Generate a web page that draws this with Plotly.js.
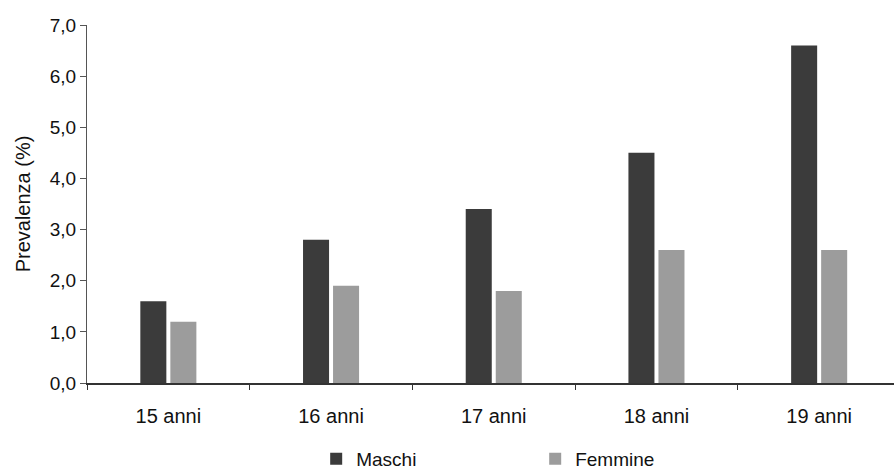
<!DOCTYPE html>
<html><head><meta charset="utf-8">
<script src="https://cdn.plot.ly/plotly-3.0.1.min.js"></script>
<style>body{margin:0;background:#fff}</style>
</head><body>
<div id="chart" style="width:894px;height:474px"></div>
<script>
const categories = ["15 anni","16 anni","17 anni","18 anni","19 anni"];
const maschi = [1.6, 2.8, 3.4, 4.5, 6.6];
const femmine = [1.2, 1.9, 1.8, 2.6, 2.6];
const yTicks = [0,1,2,3,4,5,6,7];
const yTickText = ["0,0","1,0","2,0","3,0","4,0","5,0","6,0","7,0"];

const font = {family: "Liberation Sans, Arial, sans-serif", size: 19, color: "#111"};
const data = [
  {type: "bar", name: "Maschi", x: categories, y: maschi, marker: {color: "#3b3b3b"}},
  {type: "bar", name: "Femmine", x: categories, y: femmine, marker: {color: "#9c9c9c"}}
];
const layout = {
  width: 894, height: 474,
  margin: {l: 87, r: 0, t: 25, b: 91, autoexpand: false},
  paper_bgcolor: "#fff", plot_bgcolor: "#fff",
  font: font,
  barmode: "group", bargap: 0.631, bargroupgap: 0.133,
  showlegend: true,
  legend: {orientation: "h", x: 0.284, xanchor: "left", y: -0.212, yanchor: "middle",
           font: {size: 19}, itemwidth: 30, entrywidth: 174},
  xaxis: {
    type: "category", range: [-0.5, 4.46],
    showline: true, linecolor: "#333", linewidth: 1.5,
    ticks: "outside", tickson: "boundaries", ticklen: 5, tickcolor: "#333",
    showgrid: false, zeroline: false, tickfont: {size: 20}, ticklabelstandoff: 14
  },
  yaxis: {
    range: [0, 7], tickvals: yTicks, ticktext: yTickText,
    showline: true, linecolor: "#555", linewidth: 1, ticks: "outside", ticklen: 6, tickcolor: "#555",
    showgrid: false, zeroline: false, tickfont: {size: 19},
    title: {text: "Prevalenza (%)", font: {size: 20}, standoff: 13}
  }
};
Plotly.newPlot("chart", data, layout, {displayModeBar: false, staticPlot: true});
</script>
</body></html>
